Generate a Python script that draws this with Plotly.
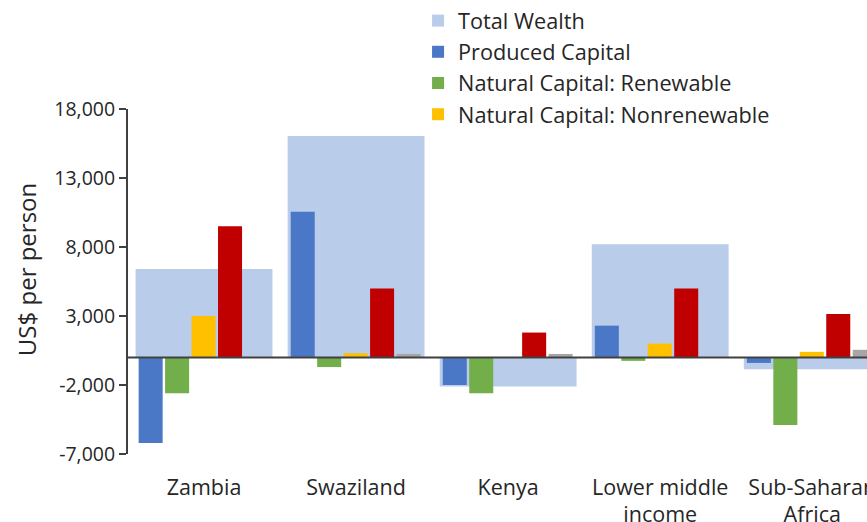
import plotly.graph_objects as go

categories = ["Zambia", "Swaziland", "Kenya", "Lower middle<br>income", "Sub-Saharan<br>Africa"]
total_wealth = [6400, 16050, -2100, 8200, -850]
produced_capital = [-6200, 10550, -2000, 2300, -400]
natural_renewable = [-2600, -700, -2600, -250, -4900]
natural_nonrenewable = [3000, 300, 0, 1000, 400]
human_capital = [9500, 5000, 1800, 5000, 3150]
net_foreign_assets = [0, 250, 250, 0, 550]

tick_vals = [-7000, -2000, 3000, 8000, 13000, 18000]
tick_text = ["-7,000", "-2,000", "3,000", "8,000", "13,000", "18,000"]

FONT = "Open Sans"
TEXT = "#262626"

fig = go.Figure()
fig.add_trace(go.Bar(x=categories, y=total_wealth, name="Total Wealth",
                     marker=dict(color="#B9CCEA", line=dict(width=0)),
                     width=0.9, offset=-0.45))

series = [
    ("Produced Capital", produced_capital, "#4A78C6", True),
    ("Natural Capital: Renewable", natural_renewable, "#72AF4A", True),
    ("Natural Capital: Nonrenewable", natural_nonrenewable, "#FFC000", True),
    ("Human Capital", human_capital, "#C00000", False),
    ("Net Foreign Assets", net_foreign_assets, "#A6A6A6", False),
]
w = 0.158
pitch = 0.174
for i, (name, vals, col, show) in enumerate(series):
    fig.add_trace(go.Bar(x=categories, y=vals, name=name,
                         marker=dict(color=col, line=dict(width=0)),
                         width=w, offset=-0.43 + i * pitch,
                         showlegend=show))

fig.add_shape(type="line", xref="paper", yref="y", x0=0, x1=1, y0=0, y1=0,
              line=dict(color="#404040", width=2), layer="above")

fig.add_annotation(text="US$ per person", textangle=-90, showarrow=False,
                   xref="paper", yref="paper", x=-0.138, y=0.533,
                   xanchor="center", yanchor="middle",
                   font=dict(family=FONT, size=24, color=TEXT))

fig.update_layout(
    width=867, height=522,
    margin=dict(l=128, r=0, t=109, b=68, autoexpand=False),
    barmode="overlay",
    plot_bgcolor="white", paper_bgcolor="white",
    font=dict(family=FONT, size=19, color=TEXT),
    legend=dict(x=0.3925, y=1.316, xanchor="left", yanchor="top",
                font=dict(family=FONT, size=21.7, color=TEXT),
                traceorder="normal", bgcolor="rgba(0,0,0,0)"),
    xaxis=dict(range=[-0.5, 4.36], showline=False, showgrid=False,
               zeroline=False, ticks="", ticklabelstandoff=18, automargin=False,
               tickfont=dict(family=FONT, size=21.5, color=TEXT)),
    yaxis=dict(range=[-7000, 18000], tickvals=tick_vals, ticktext=tick_text,
               showgrid=False, zeroline=False, showline=True, automargin=False,
               linecolor="#404040", linewidth=2, ticks="outside",
               ticklen=7, tickwidth=2, tickcolor="#404040",
               tickfont=dict(family=FONT, size=19.5, color=TEXT)),
)

fig.write_html("out.html", config={"displayModeBar": False},
               post_script="document.body.style.margin='0';")
